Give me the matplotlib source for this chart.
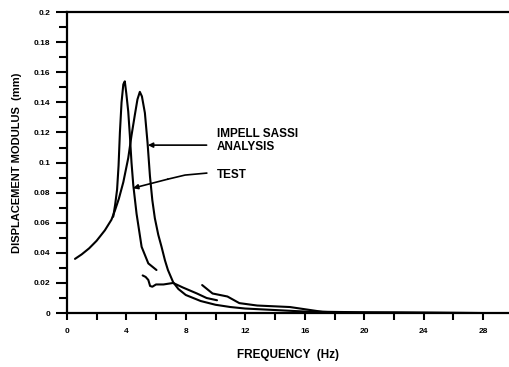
import matplotlib
matplotlib.use('Agg')
from matplotlib import pyplot as plt
from matplotlib.ticker import MultipleLocator

plt.rcParams['font.family'] = ['Liberation Sans', 'DejaVu Sans']
plt.rcParams['font.weight'] = 'bold'

# impell sassi analysis (smooth curve)
ana_f = [0.55, 1.0, 1.5, 2.0, 2.56, 3.0, 3.23, 3.5, 3.8, 4.13, 4.35, 4.58, 4.75, 4.91, 5.05,
         5.25, 5.43, 5.59, 5.75, 5.92, 6.15, 6.37, 6.6, 6.8, 7.15, 7.5, 8.0, 9.0, 10.0, 11.0,
         12.0, 14.0, 16.0, 20.0, 28.0]
ana_d = [0.036, 0.039, 0.043, 0.048, 0.055, 0.062, 0.068, 0.076, 0.087, 0.103, 0.118, 0.132,
         0.142, 0.147, 0.144, 0.133, 0.113, 0.091, 0.075, 0.063, 0.052, 0.044, 0.035, 0.0286,
         0.0205, 0.016, 0.012, 0.008, 0.0055, 0.004, 0.003, 0.002, 0.001, 0.0005, 0.0]

# test, measured in three pieces
test1_f = [3.12, 3.25, 3.38, 3.48, 3.57, 3.68, 3.8, 3.9, 4.0, 4.13, 4.24, 4.35, 4.47,
           4.69, 5.03, 5.48, 6.03]
test1_d = [0.064, 0.072, 0.082, 0.098, 0.120, 0.140, 0.152, 0.154, 0.146, 0.134, 0.118,
           0.100, 0.085, 0.066, 0.044, 0.033, 0.0286]
test2_f = [5.1, 5.3, 5.48, 5.6, 5.75, 6.0, 6.5, 7.15, 7.8, 8.75, 9.4, 10.1]
test2_d = [0.025, 0.024, 0.022, 0.018, 0.0175, 0.019, 0.019, 0.020, 0.017, 0.013, 0.010, 0.0085]
test3_f = [9.1, 9.8, 10.8, 11.6, 12.8, 15.0, 17.2, 18.5, 22.0, 28.0]
test3_d = [0.0186, 0.013, 0.011, 0.0066, 0.005, 0.004, 0.0008, 0.0003, 0.0003, 0.0]

fig = plt.figure(figsize=(5.1, 3.67), dpi=100)
ax = fig.add_axes([0.131, 0.147, 0.869, 0.82])

lw = 1.5
for f, d in [(ana_f, ana_d), (test1_f, test1_d), (test2_f, test2_d), (test3_f, test3_d)]:
    ax.plot(f, d, color='black', lw=lw, solid_joinstyle='round', solid_capstyle='round')

# labels with arrows
ax.text(10.1, 0.119, 'IMPELL SASSI', fontsize=8.5, fontweight='bold', va='center')
ax.text(10.1, 0.1105, 'ANALYSIS', fontsize=8.5, fontweight='bold', va='center')
ax.text(10.1, 0.092, 'TEST', fontsize=8.5, fontweight='bold', va='center')
arr = dict(arrowstyle='-|>', color='black', lw=1.2, mutation_scale=7, shrinkA=0, shrinkB=0)
ax.annotate('', xy=(5.45, 0.1116), xytext=(9.4, 0.1116), arrowprops=arr)
ax.plot([9.4, 7.95, 6.8], [0.093, 0.0917, 0.089], color='black', lw=1.2)
ax.annotate('', xy=(4.45, 0.083), xytext=(6.8, 0.089), arrowprops=arr)

ax.set_xlim(0, 29.8)
ax.set_ylim(0, 0.2)
ax.xaxis.set_major_locator(MultipleLocator(4))
ax.xaxis.set_minor_locator(MultipleLocator(2))
ax.yaxis.set_minor_locator(MultipleLocator(0.01))
ax.set_yticks([0, 0.02, 0.04, 0.06, 0.08, 0.1, 0.12, 0.14, 0.16, 0.18, 0.2])
ax.set_yticklabels(['0', '0.02', '0.04', '0.06', '0.08', '0.1', '0.12', '0.14', '0.16', '0.18', '0.2'])
ax.tick_params(which='both', direction='out', width=1.5, labelsize=6)
ax.tick_params(axis='y', which='major', length=8, pad=4)
ax.tick_params(axis='y', which='minor', length=6)
ax.tick_params(axis='x', which='both', length=5, pad=6)
for s in ['left', 'bottom', 'top']:
    ax.spines[s].set_linewidth(1.6)
ax.spines['right'].set_visible(False)

ax.set_xlabel('FREQUENCY  (Hz)', fontsize=8.5, fontweight='bold', labelpad=10)
ax.set_ylabel('DISPLACEMENT MODULUS  (mm)', fontsize=8, fontweight='bold', labelpad=8)

fig.savefig('out.png', dpi=100)
